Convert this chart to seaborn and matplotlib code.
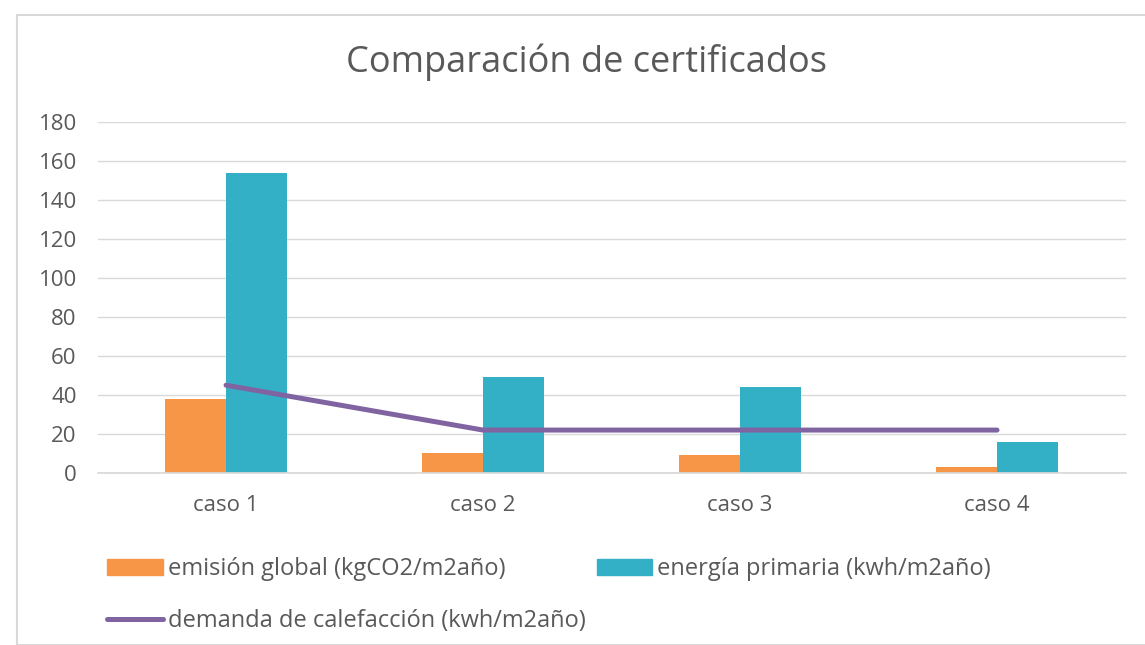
import pandas as pd
import numpy as np
import seaborn as sns
import matplotlib.pyplot as plt
from matplotlib.patches import Patch, Rectangle
from matplotlib.lines import Line2D

# data
casos = ["caso 1", "caso 2", "caso 3", "caso 4"]
emision = [38, 10, 9, 3]
energia = [154, 49, 44, 16]
demanda = [45, 22, 22, 22]

lbl_em = "emisión global (kgCO2/m2año)"
lbl_en = "energía primaria (kwh/m2año)"
lbl_de = "demanda de calefacción (kwh/m2año)"

ORANGE = "#F79646"
TEAL = "#33AFC6"
PURPLE = "#8064A2"
GREY = "#595959"

sns.set_theme(style="white")
plt.rcParams["font.family"] = ["Open Sans", "DejaVu Sans"]

df = pd.DataFrame({
    "caso": casos * 2,
    "valor": emision + energia,
    "serie": [lbl_em] * 4 + [lbl_en] * 4,
})

fig = plt.figure(figsize=(11.45, 6.45), dpi=100)
ax = fig.add_axes([0.0852, 0.2667, 0.8978, 0.5443])

sns.barplot(data=df, x="caso", y="valor", hue="serie", order=casos,
            palette=[ORANGE, TEAL], width=0.475, gap=0, saturation=1,
            linewidth=0, ax=ax, legend=False)
sns.lineplot(x=np.arange(len(casos)), y=demanda, color=PURPLE, linewidth=3.6,
             ax=ax, solid_capstyle="round")

ax.set_ylim(0, 180)
ax.set_xlim(-0.5, 3.5)
ax.set_yticks(range(0, 181, 20))
ax.yaxis.grid(True, color="#D9D9D9", linewidth=1)
ax.set_axisbelow(True)
for s in ["top", "right", "left"]:
    ax.spines[s].set_visible(False)
ax.spines["bottom"].set_color("#D9D9D9")
ax.tick_params(axis="both", colors=GREY, labelsize=16, length=0)
ax.tick_params(axis="y", pad=15)
ax.tick_params(axis="x", pad=16)
ax.set_xlabel("")
ax.set_ylabel("")

fig.text(0.512, 0.904, "Comparación de certificados", ha="center", va="center",
         fontsize=26, color=GREY)

handles = [Patch(color=ORANGE, label=lbl_em),
           Line2D([], [], color=PURPLE, linewidth=3.6, label=lbl_de),
           Patch(color=TEAL, label=lbl_en)]
fig.legend(handles=handles, ncol=2, loc="upper left", bbox_to_anchor=(0.0856, 0.151),
           frameon=False, fontsize=17, labelcolor=GREY, handlelength=2.35,
           handletextpad=0.22, columnspacing=0.45, labelspacing=1.2, borderaxespad=0)

# chart border
fig.patches.append(Rectangle((17 / 1145, 0), 1.1, 1 - 15 / 645, transform=fig.transFigure,
                             fill=False, edgecolor="#D9D9D9", linewidth=1.5))

fig.savefig("out.png", dpi=100)
